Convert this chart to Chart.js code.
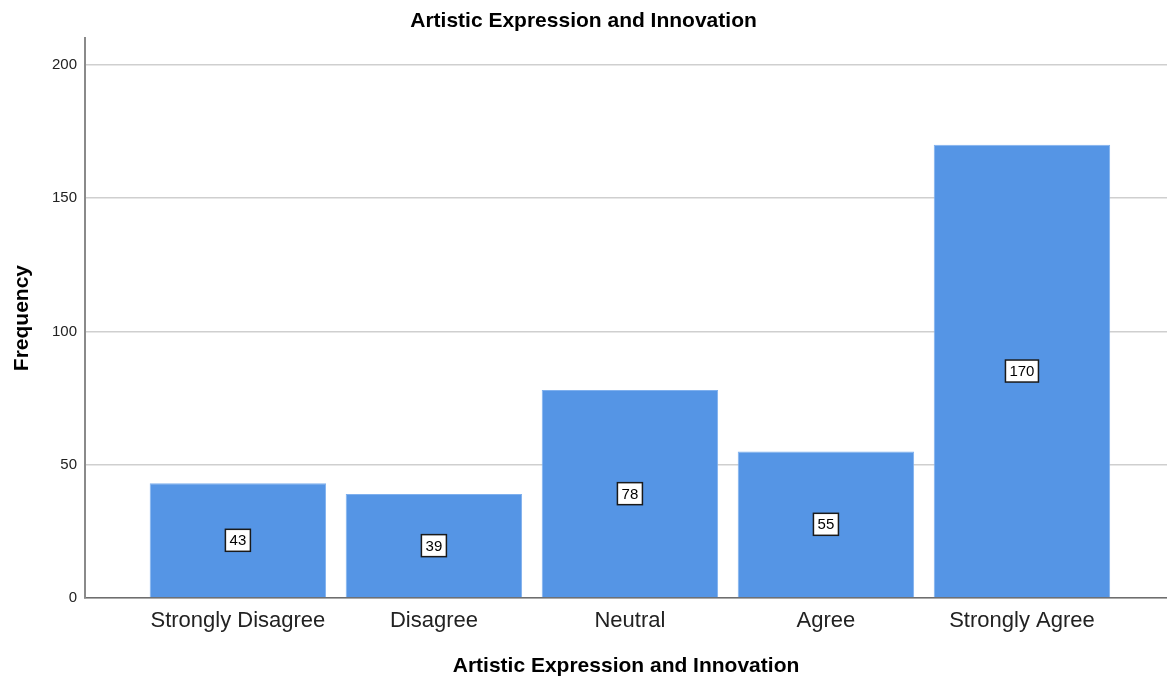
<!DOCTYPE html>
<html>
<head>
<meta charset="utf-8">
<script src="https://cdn.jsdelivr.net/npm/chart.js@4/dist/chart.umd.min.js"></script>
<style>
  html, body { margin: 0; padding: 0; background: #fff; }
  #wrap { width: 1167px; height: 679px; }
</style>
</head>
<body>
<div id="wrap"><canvas id="c" width="1167" height="679"></canvas></div>
<script>
const categories = ['Strongly Disagree', 'Disagree', 'Neutral', 'Agree', 'Strongly Agree'];
const frequencies = [43, 39, 78, 55, 170];
const yTicks = [0, 50, 100, 150, 200];

const FONT = '"Liberation Sans", Arial, sans-serif';

// Boxed count labels centred in each bar
const boxedLabels = {
  id: 'boxedLabels',
  afterDatasetsDraw(chart) {
    const ctx = chart.ctx;
    const meta = chart.getDatasetMeta(0);
    ctx.save();
    ctx.font = '15px ' + FONT;
    ctx.textAlign = 'center';
    ctx.textBaseline = 'middle';
    meta.data.forEach((bar, i) => {
      const txt = String(frequencies[i]);
      const cx = bar.x;
      const cy = (bar.y + bar.base) / 2;
      const w = Math.round(ctx.measureText(txt).width + 8);
      const h = 22;
      ctx.fillStyle = '#ffffff';
      ctx.fillRect(cx - w / 2, cy - h / 2, w, h);
      ctx.strokeStyle = '#1a1a1a';
      ctx.lineWidth = 1.5;
      ctx.strokeRect(cx - w / 2, cy - h / 2, w, h);
      ctx.fillStyle = '#000';
      ctx.fillText(txt, cx, cy + 1);
    });
    ctx.restore();
  }
};

new Chart(document.getElementById('c'), {
  type: 'bar',
  data: {
    datasets: [{
      data: frequencies.map((v, i) => ({ x: i, y: v })),
      backgroundColor: '#5595e5',
      borderColor: '#7fb0ee',
      borderWidth: 1,
      categoryPercentage: 1,
      barPercentage: 0.9
    }]
  },
  options: {
    responsive: false,
    animation: false,
    layout: { padding: { left: 0, right: 0, top: 0, bottom: 0 } },
    plugins: {
      legend: { display: false },
      tooltip: { enabled: false },
      title: {
        display: true,
        text: 'Artistic Expression and Innovation',
        color: '#000',
        font: { family: FONT, size: 21, weight: 'bold' },
        padding: { top: 9, bottom: 4 }
      }
    },
    scales: {
      x: {
        type: 'linear',
        offset: false,
        min: -0.78,
        max: 4.74,
        afterBuildTicks(scale) { scale.ticks = categories.map((_, i) => ({ value: i })); },
        afterFit(scale) { scale.height = 81; },
        grid: { display: false, offset: false },
        border: { display: true, color: '#6e6e6e', width: 1.5 },
        ticks: {
          callback: (v) => categories[v],
          color: '#222',
          font: { family: FONT, size: 22 },
          padding: 2,
          maxRotation: 0,
          autoSkip: false
        },
        title: {
          display: true,
          text: 'Artistic Expression and Innovation',
          color: '#000',
          font: { family: FONT, size: 21, weight: 'bold' },
          padding: { top: 0, bottom: 0 }
        }
      },
      y: {
        min: 0,
        max: 210,
        afterBuildTicks(scale) { scale.ticks = yTicks.map(v => ({ value: v })); },
        afterFit(scale) { scale.width = 85; },
        grid: { color: '#cfcfcf', lineWidth: 1.5, drawTicks: false },
        border: { display: true, color: '#8a8a8a', width: 2 },
        ticks: {
          color: '#222',
          font: { family: FONT, size: 15 },
          padding: 8
        },
        title: {
          display: true,
          text: 'Frequency',
          color: '#000',
          font: { family: FONT, size: 21, weight: 'bold' },
          padding: { top: 10, bottom: 0 }
        }
      }
    }
  },
  plugins: [boxedLabels]
});
</script>
</body>
</html>
